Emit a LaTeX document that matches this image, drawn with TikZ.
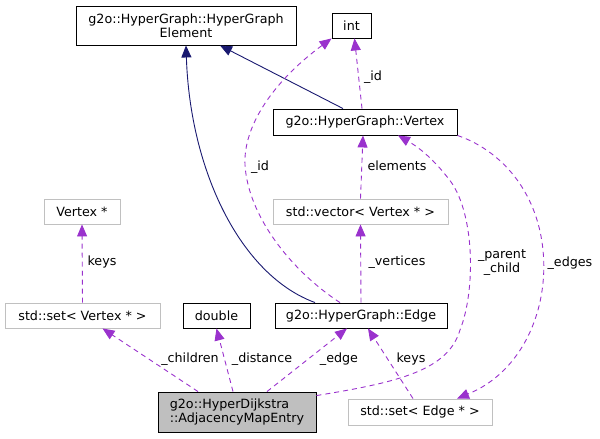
\documentclass[tikz,border=0pt]{standalone}
\usepackage{fontspec}
\setmainfont{DejaVu Sans}
\usetikzlibrary{arrows.meta}
\definecolor{dxpurple}{HTML}{9A32CD}
\definecolor{dxnavy}{HTML}{191970}
\definecolor{dxgray}{HTML}{BFBFBF}
\definecolor{dxline}{HTML}{C0C0C0}

\begin{document}
\begin{tikzpicture}[
  x=1pt, y=-1pt,
  every node/.style={font=\fontsize{12.7}{14}\selectfont, inner sep=0pt},
  cls/.style={draw=black, line width=0.9pt, minimum height=25pt},
  ext/.style={draw=dxline, line width=0.9pt, minimum height=25pt},
  dep/.style={dxpurple, line width=0.9pt, dash pattern=on 5pt off 4pt,
    -{Triangle[length=12pt,width=10pt]}},
  inh/.style={dxnavy, line width=0.9pt, -{Triangle[length=12pt,width=10pt]}},
  lbl/.style={text=black}
]
\useasboundingbox (0,0) rectangle (600,439);

% classes
\node[cls, minimum width=220pt, minimum height=39pt, align=center] (element) at (186,25.5)
  {g2o::HyperGraph::HyperGraph\\Element};
\node[cls, minimum width=39pt] (intT) at (351.5,25.5) {int};
\node[cls, minimum width=184pt, minimum height=26pt] (vertex) at (365,122) {g2o::HyperGraph::Vertex};
\node[ext, minimum width=175pt] (vvec) at (360.5,211.5) {std::vector< Vertex * >};
\node[ext, minimum width=76pt] (vptr) at (82,211.5) {Vertex *};
\node[ext, minimum width=155pt] (vset) at (82.5,315.5) {std::set< Vertex * >};
\node[cls, minimum width=67pt] (dbl) at (216.5,315.5) {double};
\node[cls, minimum width=172pt] (hedge) at (361,315.5) {g2o::HyperGraph::Edge};
\node[cls, fill=dxgray, minimum width=158pt, minimum height=40pt, align=left] (entry) at (237,412)
  {g2o::HyperDijkstra\\::AdjacencyMapEntry};
\node[ext, minimum width=144pt, minimum height=26pt] (eset) at (420,412) {std::set< Edge * >};

% inheritance
\draw[inh] ([xshift=-46pt]hedge.north) .. controls (240,275) and (190,170) .. (element.south);
\draw[inh] ([xshift=-22pt]vertex.north) -- ([xshift=34pt]element.south);

% usage
\draw[dep] ([xshift=-3pt]vertex.north) -- ([xshift=3pt]intT.south) node[lbl] at (373,77) {\_id};
\draw[dep] ([xshift=-21pt]hedge.north) .. controls (290,270) and (248,215) .. (245,165)
  .. controls (243,125) and (275,80) .. (intT.south west) node[lbl] at (260,167) {\_id};
\draw[dep] (vvec.north) -- ([xshift=-2pt]vertex.south) node[lbl] at (397,166) {elements};
\draw[dep] (hedge.north) -- (vvec.south) node[lbl] at (397,262) {\_vertices};
\draw[dep] ([yshift=-4pt]entry.north east) .. controls (400,382) and (448,370) .. (460,330)
  .. controls (476,290) and (475,210) .. (448,178)
  .. controls (434,160) and (420,148) .. ([xshift=33pt]vertex.south)
  node[lbl, align=center] at (502,263) {\_parent\\\_child};
\draw[dep] ([xshift=-39pt]entry.north) -- ([xshift=20pt]vset.south) node[lbl] at (190,359) {\_children};
\draw[dep] ([xshift=-4pt]entry.north) -- (dbl.south) node[lbl] at (262,359) {\_distance};
\draw[dep] ([xshift=30pt]entry.north) -- ([xshift=-14pt]hedge.south) node[lbl] at (339,359) {\_edge};
\draw[dep] ([xshift=-7pt]eset.north) -- ([xshift=7pt]hedge.south) node[lbl] at (411,359) {keys};
\draw[dep] (vertex.south east) .. controls (500,150) and (537,190) .. (543,250)
  .. controls (549,310) and (522,372) .. ([xshift=37pt]eset.north) node[lbl] at (570,263) {\_edges};
\draw[dep] (vset.north) -- (vptr.south) node[lbl] at (102,262) {keys};
\end{tikzpicture}
\end{document}
